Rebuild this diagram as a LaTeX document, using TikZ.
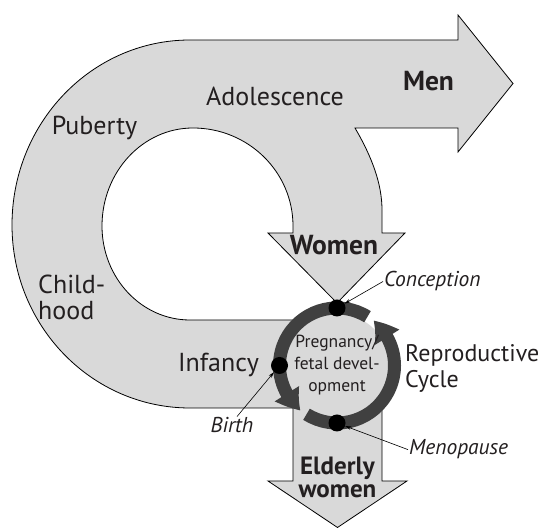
\documentclass[tikz,border=0pt]{standalone}
\usepackage{fontspec}
\setmainfont{PT Sans}
\usetikzlibrary{positioning, calc, arrows.meta, bending}
\definecolor{bandgray}{RGB}{217,217,217}
\definecolor{ringgray}{RGB}{64,64,64}
\definecolor{inkgray}{RGB}{35,31,32}

\begin{document}
\begin{tikzpicture}[x=1pt, y=1pt,
band/.style={fill=bandgray, draw=black, line width=0.8pt, line join=miter},
ringline/.style={draw=ringgray, line width=13pt,
  -{Triangle[length=22pt, width=27pt, bend]}},
dot/.style={circle, fill=black, inner sep=0pt, minimum size=17pt},
lbl/.style={text=inkgray, inner sep=1pt, font=\fontsize{26}{26}\selectfont},
biglbl/.style={text=inkgray, inner sep=1pt, font=\fontsize{27.5}{26}\selectfont\bfseries},
ital/.style={text=inkgray, inner sep=1pt, font=\fontsize{21.5}{22}\selectfont\itshape},
pointer/.style={draw=black, line width=0.6pt, -{Stealth[length=6pt, width=3.5pt]}}]
\useasboundingbox (0,0) rectangle (543,529);

% loop, men arrow and women arrow
\path[band] (190,489) -- (458,489) -- (458,514) -- (513,445.5) -- (458,377) -- (458,401)
  -- (355,401) .. controls (372,372) and (382,345) .. (382,319) -- (382,296)
  -- (405,296) -- (337,226) -- (268,296) -- (293,296) -- (293,303)
  arc[start angle=0, end angle=90, x radius=100pt, y radius=98pt]
  arc[start angle=90, end angle=180, x radius=91pt, y radius=98pt]
  arc[start angle=180, end angle=270, x radius=88pt, y radius=94pt]
  -- (300,209) -- (300,121) -- (190,121)
  arc[start angle=270, end angle=180, x radius=178pt, y radius=183pt]
  arc[start angle=180, end angle=90, x radius=178pt, y radius=185pt] -- cycle;
% elderly women arrow
\path[band] (293,129) -- (293,48) -- (268,48) -- (337.5,1.5) -- (407,48) -- (382,48) -- (382,129);

% reproductive cycle
\coordinate (ring) at (337,163.5);
\fill[bandgray] (ring) circle[radius=52pt];
\draw[ringline] ([shift={(58:57.5pt)}]ring) arc[start angle=58, end angle=231, radius=57.5pt];
\draw[ringline] ([shift={(238:57.5pt)}]ring) arc[start angle=238, end angle=411, radius=57.5pt];
\node[dot] (conc) at ([shift={(90:57.5pt)}]ring) {};
\node[dot] (birth) at ([shift={(180:57.5pt)}]ring) {};
\node[dot] (meno) at ([shift={(270:57.5pt)}]ring) {};
\node[text=inkgray, align=center, font=\fontsize{17.5}{22}\selectfont] (preg) at (ring)
  {Pregnancy/\\fetal devel-\\opment};

% labels
\node[biglbl, anchor=base] (men) at (428.5,438) {Men};
\node[lbl, anchor=base] (adol) at (275,423) {Adolescence};
\node[lbl, anchor=base] (pub) at (94.5,394) {Puberty};
\node[lbl, anchor=west, align=left] (child) at (37,232) {Child-\\hood};
\node[lbl, anchor=base] (inf) at (218.5,157) {Infancy};
\node[biglbl, anchor=base] (women) at (334,274) {Women};
\node[biglbl, align=center, font=\fontsize{25}{23}\selectfont\bfseries] (eld) at (337.5,52) {Elderly\\women};
\node[lbl, anchor=west, align=left, font=\fontsize{24}{26}\selectfont] (repro) at (404,161) {Reproductive\\Cycle};
\node[ital, anchor=base west] (conclbl) at (383,242) {Conception};
\node[ital, anchor=base] (birthlbl) at (232,96) {Birth};
\node[ital, anchor=base west] (menolbl) at (408,74) {Menopause};

\draw[pointer] (conclbl.west) -- (conc);
\draw[pointer] ([xshift=5pt]birthlbl.north) -- (birth);
\draw[pointer] (menolbl.west) -- (meno);
\end{tikzpicture}
\end{document}
